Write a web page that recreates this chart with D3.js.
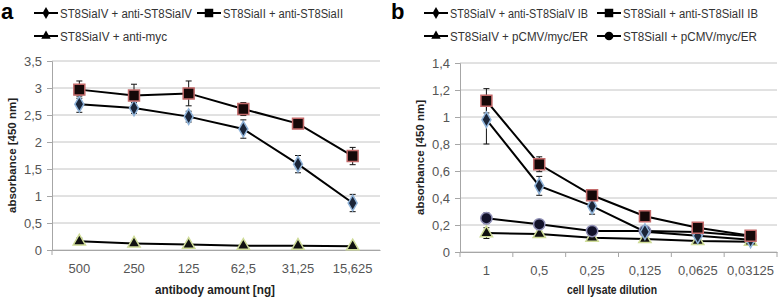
<!DOCTYPE html>
<html>
<head>
<meta charset="utf-8">
<script src="https://cdn.jsdelivr.net/npm/d3@7"></script>
<style>
  body { margin: 0; background: #fff; }
  svg { display: block; font-family: "Liberation Sans", Arial, sans-serif; }
</style>
</head>
<body>
<div id="chart"></div>
<script>
// panel a data
const catsA = ["500", "250", "125", "62,5", "31,25", "15,625"];
const ivAntiIV = [2.70, 2.63, 2.47, 2.24, 1.59, 0.87];
const ivAntiIVErr = [0.15, 0.10, 0.10, 0.17, 0.16, 0.16];
const iiAntiII = [2.97, 2.86, 2.90, 2.61, 2.34, 1.74];
const iiAntiIIErr = [0.16, 0.21, 0.23, 0.12, 0.08, 0.16];
const ivAntiMyc = [0.16, 0.12, 0.10, 0.08, 0.08, 0.07];
const ivAntiMycErr = [0.06, 0.03, 0.02, 0.02, 0.02, 0.02];
const ticksA = [0, 0.5, 1, 1.5, 2, 2.5, 3, 3.5];

// panel b data
const catsB = ["1", "0,5", "0,25", "0,125", "0,0625", "0,03125"];
const ivIB = [0.98, 0.49, 0.34, 0.15, 0.12, 0.09];
const ivIBErr = [0.18, 0.07, 0.06, 0.02, 0.02, 0.01];
const iiIB = [1.12, 0.65, 0.42, 0.265, 0.18, 0.12];
const iiIBErr = [0.09, 0.055, 0.04, 0.015, 0.015, 0.01];
const ivEmpty = [0.14, 0.133, 0.106, 0.096, 0.081, 0.076];
const ivEmptyErr = [0.04, 0.02, 0.015, 0.01, 0.01, 0.01];
const iiEmpty = [0.25, 0.205, 0.155, 0.155, 0.148, 0.116];
const iiEmptyErr = [0.04, 0.015, 0.03, 0.02, 0.015, 0.01];
const ticksB = [0, 0.2, 0.4, 0.6, 0.8, 1, 1.2, 1.4];

const fmt = v => String(+v.toFixed(2)).replace(".", ",");

const styles = {
  diamond: { sym: d3.symbolDiamond, size: 70, fill: "#1b2538", stroke: "#8fb3d9" },
  square: { sym: d3.symbolSquare, size: 120, fill: "#150808", stroke: "#c36a6a" },
  triangle: { sym: d3.symbolTriangle, size: 65, fill: "#111111", stroke: "#cfdc98" },
  circle: { sym: d3.symbolCircle, size: 100, fill: "#12122a", stroke: "#8f8fb5" }
};

const svg = d3.select("#chart").append("svg")
  .attr("width", 778).attr("height", 298);

function panel(opt) {
  const g = svg.append("g");
  const x = d3.scaleBand().domain(opt.cats).range([opt.left, opt.right]).padding(0);
  const y = d3.scaleLinear().domain([0, opt.max]).range([opt.bottom, opt.top]);
  const cx = c => x(c) + x.bandwidth() / 2;

  // gridlines
  g.selectAll(".grid").data(opt.ticks).enter().append("line")
    .attr("x1", opt.left).attr("x2", opt.right)
    .attr("y1", d => y(d)).attr("y2", d => y(d))
    .attr("stroke", "#c4c4c4").attr("stroke-width", 1);

  // y axis
  const ya = g.append("g").attr("transform", `translate(${opt.left},0)`)
    .call(d3.axisLeft(y).tickValues(opt.ticks).tickFormat(fmt).tickSize(5).tickPadding(5));
  ya.select(".domain").attr("stroke", "#a6a6a6");
  ya.selectAll(".tick line").attr("stroke", "#a6a6a6");
  ya.selectAll("text").attr("fill", "#555").style("font-size", "13px")
    .style("font-family", "'Liberation Sans', Arial, sans-serif");

  // x axis
  const xa = g.append("g").attr("transform", `translate(0,${opt.bottom})`)
    .call(d3.axisBottom(x).tickSize(0).tickPadding(14));
  xa.select(".domain").attr("stroke", "#a6a6a6");
  xa.selectAll("text").attr("fill", "#555").style("font-size", "13px")
    .style("font-family", "'Liberation Sans', Arial, sans-serif");
  const bounds = opt.xTicks ? opt.cats.map(c => x(c)).concat([opt.right]) : [opt.left];
  g.selectAll(".xt").data(bounds).enter().append("line")
    .attr("x1", d => d).attr("x2", d => d)
    .attr("y1", opt.bottom).attr("y2", opt.bottom + 5)
    .attr("stroke", "#a6a6a6");

  // titles
  g.append("text")
    .attr("transform", `translate(${opt.ytitleX},${(opt.top + opt.bottom) / 2}) rotate(-90)`)
    .attr("text-anchor", "middle").attr("font-weight", "bold").attr("font-size", 11.5)
    .attr("fill", "#222").text("absorbance [450 nm]");
  g.append("text")
    .attr("x", opt.xtitleX).attr("y", 294)
    .attr("text-anchor", "middle").attr("font-weight", "bold").attr("font-size", 12)
    .attr("textLength", opt.xtitleW).attr("lengthAdjust", "spacingAndGlyphs")
    .attr("fill", "#222").text(opt.xtitle);

  // series
  const line = d3.line().x(d => cx(d.c)).y(d => y(d.v));
  opt.series.forEach(s => {
    const pts = opt.cats.map((c, i) => ({ c, v: s.values[i], e: s.err[i] }));
    const eb = g.append("g");
    pts.forEach(p => {
      const x0 = cx(p.c), y1 = y(p.v + p.e), y2 = y(Math.max(0, p.v - p.e));
      eb.append("line").attr("x1", x0).attr("x2", x0).attr("y1", y1).attr("y2", y2)
        .attr("stroke", "#111").attr("stroke-width", 1);
      [y1, y2].forEach(yy => eb.append("line")
        .attr("x1", x0 - 3).attr("x2", x0 + 3).attr("y1", yy).attr("y2", yy)
        .attr("stroke", "#111").attr("stroke-width", 1));
    });
    s.pts = pts;
  });
  opt.series.forEach(s => {
    g.append("path").datum(s.pts).attr("d", line)
      .attr("fill", "none").attr("stroke", "#000").attr("stroke-width", 2);
  });
  opt.series.forEach(s => {
    const st = styles[s.marker];
    g.selectAll(null).data(s.pts).enter().append("path")
      .attr("d", d3.symbol().type(st.sym).size(st.size))
      .attr("transform", d => `translate(${cx(d.c)},${y(d.v)})`)
      .attr("fill", st.fill).attr("stroke", st.stroke).attr("stroke-width", 1.5);
  });

  // panel letter
  svg.append("text").attr("x", opt.letterX).attr("y", 19)
    .attr("font-size", 22).attr("font-weight", "bold").attr("fill", "#000")
    .text(opt.letter);

  // legend
  opt.legend.forEach(l => {
    const lg = svg.append("g").attr("transform", `translate(${l.x},${l.y})`);
    lg.append("line").attr("x1", 0).attr("x2", 24).attr("y1", 0).attr("y2", 0)
      .attr("stroke", "#000").attr("stroke-width", 2);
    lg.append("path").attr("d", d3.symbol().type(styles[l.marker].sym).size(styles[l.marker].size * 0.6))
      .attr("transform", "translate(12,0)").attr("fill", "#000");
    lg.append("text").attr("x", 26).attr("y", 4.5).attr("font-size", 12)
      .attr("textLength", l.w).attr("lengthAdjust", "spacingAndGlyphs")
      .attr("fill", "#333").text(l.label);
  });
}

panel({
  cats: catsA, max: 3.5, ticks: ticksA, xTicks: false,
  left: 52, right: 380, top: 61, bottom: 250, ytitleX: 16,
  xtitle: "antibody amount [ng]", xtitleX: 215, xtitleW: 120, letter: "a", letterX: 1,
  series: [
    { values: ivAntiMyc, err: ivAntiMycErr, marker: "triangle" },
    { values: ivAntiIV, err: ivAntiIVErr, marker: "diamond" },
    { values: iiAntiII, err: iiAntiIIErr, marker: "square" }
  ],
  legend: [
    { x: 34, y: 13, w: 132, marker: "diamond", label: "ST8SiaIV + anti-ST8SiaIV" },
    { x: 197, y: 13, w: 120, marker: "square", label: "ST8SiaII + anti-ST8SiaII" },
    { x: 34, y: 36, w: 107, marker: "triangle", label: "ST8SiaIV + anti-myc" }
  ]
});

panel({
  cats: catsB, max: 1.4, ticks: ticksB, xTicks: true,
  left: 460, right: 777, top: 63, bottom: 252, ytitleX: 424,
  xtitle: "cell lysate dilution", xtitleX: 612, xtitleW: 90, letter: "b", letterX: 391,
  series: [
    { values: ivEmpty, err: ivEmptyErr, marker: "triangle" },
    { values: iiEmpty, err: iiEmptyErr, marker: "circle" },
    { values: ivIB, err: ivIBErr, marker: "diamond" },
    { values: iiIB, err: iiIBErr, marker: "square" }
  ],
  legend: [
    { x: 424, y: 13, w: 138, marker: "diamond", label: "ST8SiaIV + anti-ST8SiaIV IB" },
    { x: 597, y: 13, w: 135, marker: "square", label: "ST8SiaII + anti-ST8SiaII IB" },
    { x: 424, y: 36, w: 138, marker: "triangle", label: "ST8SiaIV + pCMV/myc/ER" },
    { x: 597, y: 36, w: 134, marker: "circle", label: "ST8SiaII + pCMV/myc/ER" }
  ]
});
</script>
</body>
</html>
